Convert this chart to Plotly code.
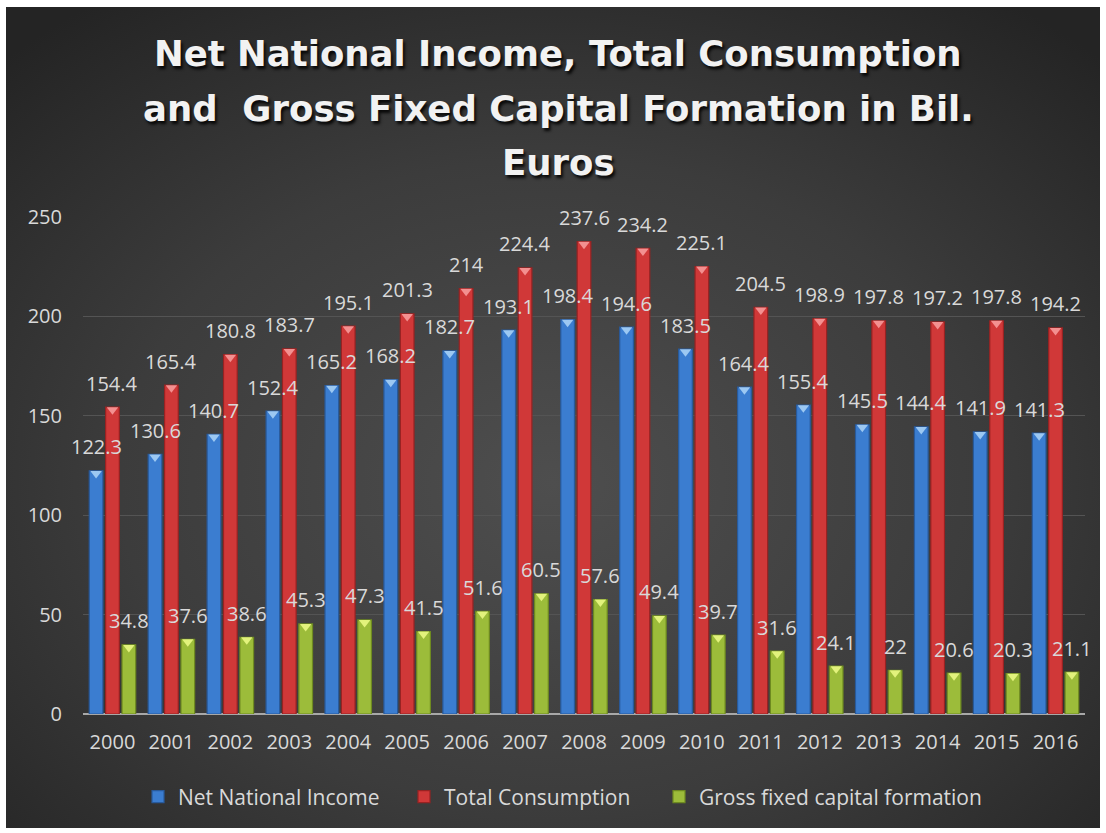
import base64
import plotly.graph_objects as go

# ---- data -------------------------------------------------------------
years = ["2000", "2001", "2002", "2003", "2004", "2005", "2006", "2007", "2008",
         "2009", "2010", "2011", "2012", "2013", "2014", "2015", "2016"]
net_national_income = [122.3, 130.6, 140.7, 152.4, 165.2, 168.2, 182.7, 193.1, 198.4,
                       194.6, 183.5, 164.4, 155.4, 145.5, 144.4, 141.9, 141.3]
total_consumption = [154.4, 165.4, 180.8, 183.7, 195.1, 201.3, 214, 224.4, 237.6,
                     234.2, 225.1, 204.5, 198.9, 197.8, 197.2, 197.8, 194.2]
gross_fixed_capital = [34.8, 37.6, 38.6, 45.3, 47.3, 41.5, 51.6, 60.5, 57.6,
                       49.4, 39.7, 31.6, 24.1, 22, 20.6, 20.3, 21.1]
y_ticks = [0, 50, 100, 150, 200, 250]

title_lines = ["Net National Income, Total Consumption",
               "and  Gross Fixed Capital Formation in Bil.",
               "Euros"]

# ---- geometry ---------------------------------------------------------
W, H = 1106, 833
M_L, M_R, M_T, M_B = 83, 21, 217, 119
plot_w = W - M_L - M_R
plot_h = H - M_T - M_B
y_max = 250
px_per_unit = plot_h / y_max


def paper_x(px):
    return (px - M_L) / plot_w


def paper_y(py):
    return (H - M_B - py) / plot_h


slot = 0.278          # distance between bar centres inside a group
bar_w = 0.232
x_idx = list(range(len(years)))

series = [
    ("Net National Income", net_national_income, "#3b7dd0", "#285a9c", "#9cc8f2", -1, "legend", 158),
    ("Total Consumption", total_consumption, "#d03838", "#982222", "#f39090", 0, "legend2", 424),
    ("Gross fixed capital formation", gross_fixed_capital, "#9cbc3a", "#6e8a20", "#e2f27c", 1, "legend3", 679),
]

TEXT = "#d9d9d9"
FONT = "Open Sans"

fig = go.Figure()
annotations = []
legends = {}
tri_dy = 2.6 / px_per_unit

for name, vals, fill, edge, bevel, k, leg, leg_px in series:
    fig.add_trace(go.Bar(
        x=x_idx, y=vals, name=name, legend=leg,
        offset=k * slot - bar_w / 2, width=bar_w,
        marker=dict(color=fill, line=dict(color=edge, width=1.2)),
        hoverinfo="y+name",
    ))
    # bevelled cap on top of each bar
    fig.add_trace(go.Scatter(
        x=[i + k * slot for i in x_idx], y=[v - tri_dy for v in vals],
        mode="markers", showlegend=False, hoverinfo="skip",
        marker=dict(symbol="triangle-down", size=10, color=bevel, line=dict(width=0)),
        cliponaxis=False,
    ))
    for i, v in zip(x_idx, vals):
        annotations.append(dict(
            x=i + k * slot, y=v, xref="x", yref="y", text=f"{v:g}",
            showarrow=False, yshift=24, xanchor="center", yanchor="middle",
            font=dict(family=FONT, size=20, color=TEXT),
        ))
    legends[leg] = dict(
        orientation="h", x=paper_x(leg_px - 20), xanchor="left",
        y=paper_y(797), yanchor="middle",
        font=dict(family=FONT, size=21, color=TEXT),
        bgcolor="rgba(0,0,0,0)", itemwidth=30,
    )

# chart title, one line per row
for row, (line, py) in enumerate(zip(title_lines, [54, 108, 162])):
    annotations.append(dict(
        x=paper_x(558), y=paper_y(py), xref="paper", yref="paper",
        text=f"<b>{line}</b>", showarrow=False, xanchor="center", yanchor="middle",
        font=dict(family="DejaVu Sans", size=35.5, color="#f2f2f2",
                  shadow="2px 3px 3px rgba(0,0,0,0.85)"),
    ))

# radial-gradient backdrop for the chart area
bg_x0, bg_y0, bg_x1, bg_y1 = 6, 7, 1100, 828
svg = f"""<svg xmlns='http://www.w3.org/2000/svg' width='{bg_x1-bg_x0}' height='{bg_y1-bg_y0}'>
<defs><radialGradient id='g' cx='50%' cy='58%' r='72%'>
<stop offset='0%' stop-color='#4e4e4e'/><stop offset='55%' stop-color='#3c3c3c'/>
<stop offset='100%' stop-color='#242424'/></radialGradient></defs>
<rect width='100%' height='100%' fill='url(#g)'/></svg>"""
svg_uri = "data:image/svg+xml;base64," + base64.b64encode(svg.encode()).decode()

fig.add_layout_image(dict(
    source=svg_uri, xref="paper", yref="paper",
    x=paper_x(bg_x0), y=paper_y(bg_y0),
    sizex=(bg_x1 - bg_x0) / plot_w, sizey=(bg_y1 - bg_y0) / plot_h,
    xanchor="left", yanchor="top", sizing="stretch", layer="below",
))

fig.update_layout(
    width=W, height=H,
    margin=dict(l=M_L, r=M_R, t=M_T, b=M_B),
    paper_bgcolor="#ffffff", plot_bgcolor="rgba(0,0,0,0)",
    barmode="overlay",
    xaxis=dict(
        range=[-0.5, len(years) - 0.5], tickvals=x_idx, ticktext=years,
        showgrid=False, zeroline=False, showline=False, ticks="",
        tickfont=dict(family=FONT, size=20, color=TEXT), ticklabelstandoff=14,
        fixedrange=True,
    ),
    yaxis=dict(
        range=[0, y_max], tickvals=y_ticks, showgrid=True, gridcolor="#545454",
        gridwidth=1, zeroline=True, zerolinecolor="#a8a8a8", zerolinewidth=2,
        showline=False, ticks="", ticklabelstandoff=20,
        tickfont=dict(family=FONT, size=20, color=TEXT), fixedrange=True,
    ),
    annotations=annotations,
    showlegend=True,
    **legends,
)

fig.write_html("out.html")
